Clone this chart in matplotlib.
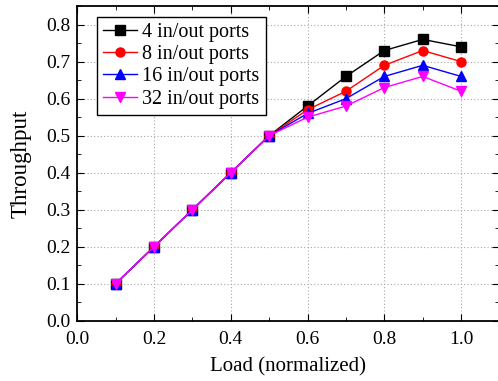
import matplotlib
matplotlib.use('Agg')
import matplotlib.pyplot as plt
from matplotlib.ticker import MultipleLocator

# Dados
carga = [0.1, 0.2, 0.3, 0.4, 0.5, 0.6, 0.7, 0.8, 0.9, 1.0]
portas_4 = [0.1, 0.2, 0.3, 0.4, 0.5, 0.58, 0.66, 0.73, 0.76, 0.74]
portas_8 = [0.1, 0.2, 0.3, 0.4, 0.5, 0.57, 0.62, 0.69, 0.73, 0.70]
portas_16 = [0.1, 0.2, 0.3, 0.4, 0.5, 0.56, 0.60, 0.66, 0.69, 0.66]
portas_32 = [0.1, 0.2, 0.3, 0.4, 0.5, 0.55, 0.58, 0.63, 0.66, 0.62]
rotulos = ['4 in/out ports', '8 in/out ports', '16 in/out ports', '32 in/out ports']

plt.rcParams['font.family'] = ['Liberation Serif', 'DejaVu Serif']

fig = plt.figure(figsize=(4.98, 3.81), dpi=100)
ax = fig.add_axes([0.155, 0.158, 0.848, 0.826])

series = [portas_4, portas_8, portas_16, portas_32]
estilos = [('black', 's'), ('red', 'o'), ('blue', '^'), ('magenta', 'v')]
for y, (cor, mk), rot in zip(series, estilos, rotulos):
    ax.plot(carga, y, color=cor, marker=mk, markersize=6.5, linewidth=1, label=rot)

ax.set_xlim(0, 1.1)
ax.set_ylim(0, 0.85)
ax.xaxis.set_major_locator(MultipleLocator(0.2))
ax.xaxis.set_minor_locator(MultipleLocator(0.1))
ax.yaxis.set_major_locator(MultipleLocator(0.1))
ax.yaxis.set_minor_locator(MultipleLocator(0.05))
ax.xaxis.set_major_formatter(plt.FormatStrFormatter('%.1f'))
ax.yaxis.set_major_formatter(plt.FormatStrFormatter('%.1f'))
ax.tick_params(which='both', direction='in', top=True, right=True, labelsize=14)
ax.tick_params(axis='x', which='major', pad=7)
ax.tick_params(axis='y', which='major', pad=5)
ax.tick_params(which='major', length=5)
ax.tick_params(which='minor', length=3)
ax.grid(True, which='major', linestyle=(0, (1, 2)), color='#a8a8a8', linewidth=0.8)
for s in ax.spines.values():
    s.set_linewidth(1.3)

ax.set_xlabel('Load (normalized)', fontsize=15, labelpad=7)
ax.set_ylabel('Throughput', fontsize=16.5, labelpad=10)

leg = ax.legend(loc='upper left', bbox_to_anchor=(0.047, 0.965), borderaxespad=0,
                fontsize=14.5, fancybox=False, edgecolor='black', framealpha=1,
                handlelength=1.7, labelspacing=0.15, borderpad=0.3, handletextpad=0.25)
leg.get_frame().set_linewidth(1)

fig.savefig('out.png', dpi=100)
